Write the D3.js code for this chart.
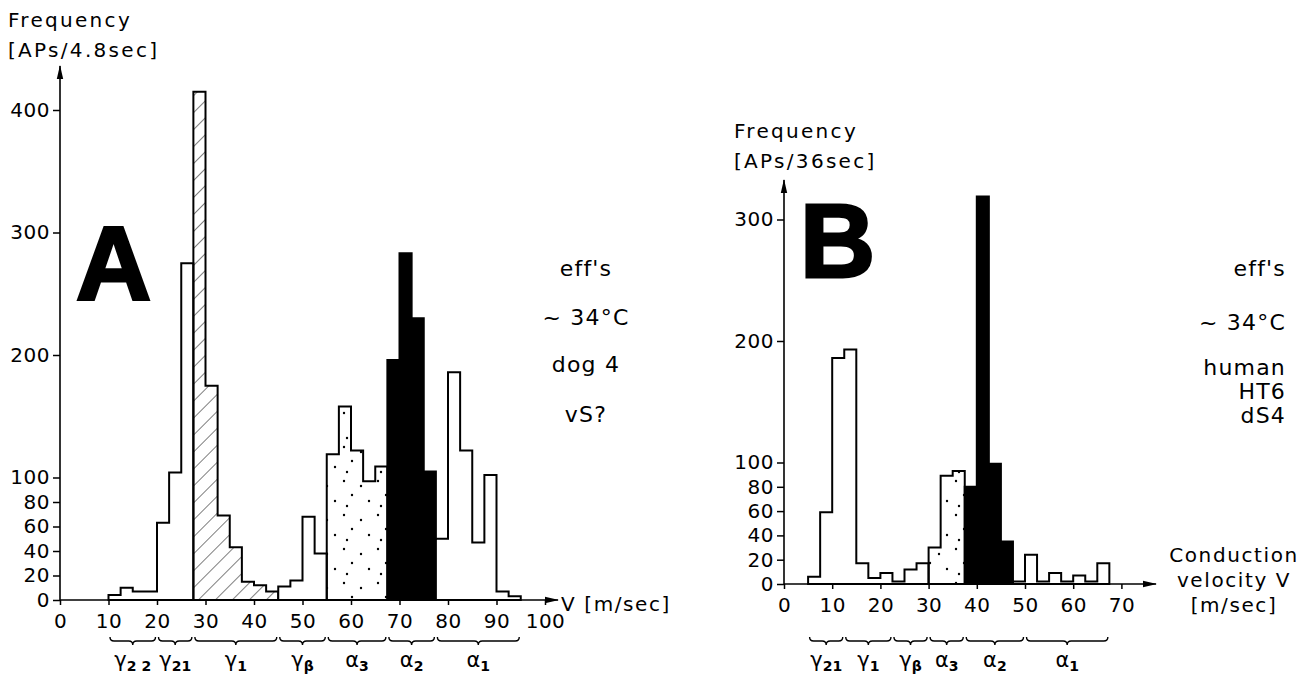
<!DOCTYPE html>
<html>
<head>
<meta charset="utf-8">
<script src="https://cdn.jsdelivr.net/npm/d3@7"></script>
<style>
  body { margin: 0; background: #fff; }
  svg text { font-family: "DejaVu Sans", sans-serif; fill: #000; }
</style>
</head>
<body>
<svg id="fig" width="1314" height="675"></svg>
<script>
// ---------- data ----------
const binWidth = 2.5;

// panel A : dog 4, counts per 2.5 m/s bin starting at 10 m/s
const binStartA = 10;
const countsA = [4, 10, 7, 7, 63, 104, 275, 415, 175, 69, 43, 15, 12, 7, 11, 16, 68, 38,
                 119, 158, 122, 97, 109, 196, 283, 230, 105, 50, 186, 122, 47, 102, 7, 3];
const shadeEdgesA = [10, 27.5, 45, 55, 67.5, 77.5, 95];
const shadeKindsA = ["open", "hatched", "open", "dotted", "solid", "open"];
const classEdgesA = [10, 20, 27.5, 45, 55, 67.5, 77.5, 95];
const classNamesA = [["γ", "2 2"], ["γ", "21"], ["γ", "1"], ["γ", "β"], ["α", "3"], ["α", "2"], ["α", "1"]];
const yTicksA = [0, 20, 40, 60, 80, 100, 200, 300, 400];
const xTicksA = [0, 10, 20, 30, 40, 50, 60, 70, 80, 90, 100];
const notesA = ["eff's", "~ 34°C", "dog 4", "vS?"];

// panel B : human HT6 dS4, counts per 2.5 m/s bin starting at 5 m/s
const binStartB = 5;
const countsB = [6, 59, 186, 193, 17, 5, 9, 2, 12, 17, 30, 89, 93, 80, 319, 99, 35, 2,
                 24, 2, 9, 2, 7, 2, 17];
const shadeEdgesB = [5, 30, 37.5, 47.5, 67.5];
const shadeKindsB = ["open", "dotted", "solid", "open"];
const classEdgesB = [5, 12.5, 22.5, 30, 37.5, 50, 67.5];
const classNamesB = [["γ", "21"], ["γ", "1"], ["γ", "β"], ["α", "3"], ["α", "2"], ["α", "1"]];
const yTicksB = [0, 20, 40, 60, 80, 100, 200, 300];
const xTicksB = [0, 10, 20, 30, 40, 50, 60, 70];
const notesB = ["eff's", "~ 34°C", "human", "HT6", "dS4"];

// ---------- setup ----------
const svg = d3.select("#fig");
const defs = svg.append("defs");

// diagonal hatching
defs.append("pattern")
    .attr("id", "hatch")
    .attr("patternUnits", "userSpaceOnUse")
    .attr("width", 12).attr("height", 12)
    .attr("patternTransform", "rotate(45)")
  .append("line")
    .attr("x1", 0).attr("y1", 0).attr("x2", 0).attr("y2", 12)
    .attr("stroke", "#000").attr("stroke-width", 1);

// sparse stipple
const dots = defs.append("pattern")
    .attr("id", "dots")
    .attr("patternUnits", "userSpaceOnUse")
    .attr("width", 34).attr("height", 34);
[[4, 5], [21, 10], [12, 19], [29, 25], [7, 30]].forEach(p => {
  dots.append("circle").attr("cx", p[0]).attr("cy", p[1]).attr("r", 1.2).attr("fill", "#000");
});

// arrow head
defs.append("marker")
    .attr("id", "arrow")
    .attr("markerUnits", "userSpaceOnUse")
    .attr("markerWidth", 14).attr("markerHeight", 8)
    .attr("refX", 13).attr("refY", 4)
    .attr("orient", "auto")
  .append("path")
    .attr("d", "M0,0.8 L14,4 L0,7.2 Z")
    .attr("fill", "#000");

const fillFor = { open: "#fff", hatched: "url(#hatch)", dotted: "url(#dots)", solid: "#000" };

// curly brace under the axis, opening upwards
function bracePath(x1, x2, y, h) {
  const m = (x1 + x2) / 2, q = h / 2;
  return `M${x1},${y} Q${x1},${y + q} ${x1 + q},${y + q} L${m - q},${y + q} ` +
         `Q${m},${y + q} ${m},${y + h} Q${m},${y + q} ${m + q},${y + q} ` +
         `L${x2 - q},${y + q} Q${x2},${y + q} ${x2},${y}`;
}

function drawPanel(p) {
  const g = svg.append("g");
  const x = p.x, y = p.y;

  // shaded regions as stepped areas
  p.shadeKinds.forEach((kind, k) => {
    const lo = p.shadeEdges[k], hi = p.shadeEdges[k + 1];
    const pts = [[lo, 0]];
    p.counts.forEach((c, i) => {
      const b0 = p.binStart + i * binWidth, b1 = b0 + binWidth;
      if (b0 >= lo - 1e-6 && b1 <= hi + 1e-6) { pts.push([b0, c]); pts.push([b1, c]); }
    });
    pts.push([hi, 0]);
    g.append("path")
      .attr("d", d3.line().x(d => x(d[0])).y(d => y(d[1]))(pts) + "Z")
      .attr("fill", fillFor[kind])
      .attr("stroke", "#000")
      .attr("stroke-width", 2)
      .attr("stroke-linejoin", "miter");
  });

  // y axis
  const ya = g.append("g")
    .attr("transform", `translate(${x(0)},0)`)
    .call(d3.axisLeft(y).tickValues(p.yTicks).tickSize(7).tickPadding(3).tickSizeOuter(0));
  ya.select(".domain").remove();
  ya.selectAll("line").attr("stroke-width", 1.5);
  ya.selectAll("text").style("font-size", "20px").style("letter-spacing", "0.5px")
    .style("font-family", "'DejaVu Sans', sans-serif");
  g.append("line")
    .attr("x1", x(0)).attr("y1", y(0))
    .attr("x2", x(0)).attr("y2", p.yArrowTip)
    .attr("stroke", "#000").attr("stroke-width", 1.6)
    .attr("marker-end", "url(#arrow)");

  // x axis
  const xa = g.append("g")
    .attr("transform", `translate(0,${y(0)})`)
    .call(d3.axisBottom(x).tickValues(p.xTicks).tickSize(5).tickPadding(9).tickSizeOuter(0));
  xa.select(".domain").remove();
  xa.selectAll("line").attr("stroke-width", 1.5);
  xa.selectAll("text").style("font-size", "20px").style("letter-spacing", "0.5px")
    .style("font-family", "'DejaVu Sans', sans-serif");
  g.append("line")
    .attr("x1", x(0)).attr("y1", y(0))
    .attr("x2", p.xArrowTip).attr("y2", y(0))
    .attr("stroke", "#000").attr("stroke-width", 1.6)
    .attr("marker-end", "url(#arrow)");

  // y label
  p.yLabel.forEach((t, i) => {
    g.append("text")
      .attr("x", p.yLabelX).attr("y", p.yLabelY + i * 30)
      .style("font-size", "20px").style("letter-spacing", "2.3px")
      .text(t);
  });

  // x label
  p.xLabel.forEach((t, i) => {
    g.append("text")
      .attr("x", p.xLabelX).attr("y", p.xLabelY + i * 25)
      .attr("text-anchor", p.xLabelAnchor)
      .style("font-size", "20px").style("letter-spacing", "1.6px")
      .text(t);
  });

  // big panel letter
  g.append("text")
    .attr("x", p.letterX).attr("y", p.letterY)
    .style("font-family", "'Liberation Sans', Arial, sans-serif")
    .style("font-weight", "bold")
    .style("font-size", "104px")
    .style("stroke", "#000").style("stroke-width", 3).style("stroke-linejoin", "miter")
    .text(p.letter);

  // notes on the right
  p.notes.forEach((t, i) => {
    g.append("text")
      .attr("x", p.noteX).attr("y", p.noteY[i])
      .attr("text-anchor", p.noteAnchor)
      .style("font-size", "22px").style("letter-spacing", "1.2px")
      .text(t);
  });

  // fibre class braces
  p.classNames.forEach((nm, k) => {
    const x1 = x(p.classEdges[k]) + 1.5, x2 = x(p.classEdges[k + 1]) - 1.5;
    g.append("path")
      .attr("d", bracePath(x1, x2, 637, 8))
      .attr("fill", "none").attr("stroke", "#000").attr("stroke-width", 1.4);
    const t = g.append("text")
      .attr("x", (x1 + x2) / 2).attr("y", 667)
      .attr("text-anchor", "middle")
      .style("font-size", "21px");
    t.append("tspan").text(nm[0]);
    t.append("tspan").attr("dy", 4).style("font-size", "14px").style("font-weight", "bold")
      .text(nm[1]);
  });
}

drawPanel({
  x: d3.scaleLinear().domain([0, 100]).range([60, 545]),
  y: d3.scaleLinear().domain([0, 400]).range([600, 110]),
  counts: countsA, binStart: binStartA,
  shadeEdges: shadeEdgesA, shadeKinds: shadeKindsA,
  classEdges: classEdgesA, classNames: classNamesA,
  yTicks: yTicksA, xTicks: xTicksA,
  yArrowTip: 66, xArrowTip: 558,
  yLabel: ["Frequency", "[APs/4.8sec]"], yLabelX: 8, yLabelY: 27,
  xLabel: ["V [m/sec]"], xLabelX: 561, xLabelY: 611, xLabelAnchor: "start",
  letter: "A", letterX: 76, letterY: 299,
  notes: notesA, noteX: 586, noteY: [276, 325, 372, 422], noteAnchor: "middle"
});

drawPanel({
  x: d3.scaleLinear().domain([0, 70]).range([784, 1121.4]),
  y: d3.scaleLinear().domain([0, 300]).range([584, 219.5]),
  counts: countsB, binStart: binStartB,
  shadeEdges: shadeEdgesB, shadeKinds: shadeKindsB,
  classEdges: classEdgesB, classNames: classNamesB,
  yTicks: yTicksB, xTicks: xTicksB,
  yArrowTip: 180, xArrowTip: 1156,
  yLabel: ["Frequency", "[APs/36sec]"], yLabelX: 734, yLabelY: 138,
  xLabel: ["Conduction", "velocity V", "[m/sec]"], xLabelX: 1234, xLabelY: 562, xLabelAnchor: "middle",
  letter: "B", letterX: 800, letterY: 277,
  notes: notesB, noteX: 1286, noteY: [276, 330, 375, 399, 423], noteAnchor: "end"
});
</script>
</body>
</html>
